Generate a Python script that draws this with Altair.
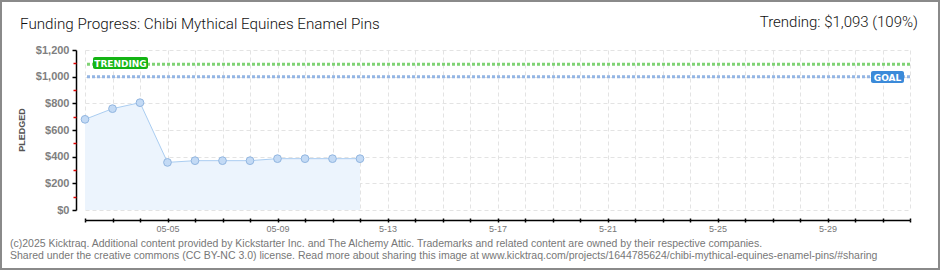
import altair as alt
import pandas as pd

# ---- data ----
dates = ["2025-05-02", "2025-05-03", "2025-05-04", "2025-05-05", "2025-05-06",
         "2025-05-07", "2025-05-08", "2025-05-09", "2025-05-10", "2025-05-11",
         "2025-05-12"]
pledged = [680, 760, 805, 357, 370, 370, 370, 385, 385, 385, 385]
goal_value = 1000
trending_value = 1093
ref_names = ["TRENDING", "GOAL"]
ref_values = [trending_value, goal_value]

x_label_dates = ["2025-05-05", "2025-05-09", "2025-05-13", "2025-05-17",
                 "2025-05-21", "2025-05-25", "2025-05-29"]
x_label_texts = ["05-05", "05-09", "5-13", "5-17", "5-21", "5-25", "5-29"]
y_major = [0, 200, 400, 600, 800, 1000, 1200]
y_minor = [100, 300, 500, 700, 900, 1100]

title_text = "Funding Progress: Chibi Mythical Equines Enamel Pins"
trend_text = "Trending: $1,093 (109%)"
y_title = "PLEDGED"
footer_lines = [
    "(c)2025 Kicktraq. Additional content provided by Kickstarter Inc. and The Alchemy Attic. Trademarks and related content are owned by their respective companies.",
    "Shared under the creative commons (CC BY-NC 3.0) license. Read more about sharing this image at www.kicktraq.com/projects/1644785624/chibi-mythical-equines-enamel-pins/#sharing",
]

# ---- styling ----
FONT_T = "Roboto"
FONT = "Liberation Sans"
GRID = "#e3e3e3"

df = pd.DataFrame({"date": dates, "pledged": pledged})
refs = pd.DataFrame({"name": ref_names, "value": ref_values})

all_days = pd.date_range("2025-05-02", "2025-06-01", freq="D")
day_values = [alt.DateTime(year=d.year, month=d.month, date=d.day, utc=True) for d in all_days]
x_dom = [day_values[0], day_values[-1]]

label_expr = "".join(
    f"utcFormat(datum.value, '%Y-%m-%d') == '{d}' ? '{t}' : "
    for d, t in zip(x_label_dates, x_label_texts)
) + "''"

xscale = alt.Scale(type="utc", domain=x_dom)
yscale = alt.Scale(domain=[0, 1200], nice=False)

x_axis_main = alt.Axis(
    values=day_values, labelExpr=label_expr, orient="bottom", offset=10,
    grid=True, gridColor=GRID, gridDash=[4, 3], gridWidth=1,
    domain=True, domainColor="#000", domainWidth=1.5,
    ticks=True, tickColor="#000", tickSize=2, tickWidth=1.5,
    labelFont=FONT, labelFontSize=9, labelColor="#777", labelPadding=2,
    labelFlush=False, labelOverlap=False, title=None,
)
x_axis_up = alt.Axis(
    values=day_values, orient="bottom", offset=8, grid=False, domain=False,
    ticks=True, tickColor="#000", tickSize=2, tickWidth=1.5, labels=False, title=None,
)
y_axis_main = alt.Axis(
    values=y_major, orient="left", offset=9, format="$,.0f",
    grid=True, gridColor=GRID, gridDash=[4, 3], gridWidth=1,
    domain=True, domainColor="#000", domainWidth=1.5,
    ticks=True, tickColor="#000", tickSize=4, tickWidth=1.5,
    labelFont=FONT, labelFontSize=11, labelFontWeight="bold", labelColor="#808080",
    labelPadding=3, title=None,
)
y_axis_minor = alt.Axis(
    values=y_minor, orient="left", offset=9, grid=False, domain=False,
    ticks=True, tickColor="#e00000", tickSize=3, tickWidth=1.5, labels=False, title=None,
)

base = alt.Chart(df)

area = base.mark_area(color="#ecf4fd", opacity=1).encode(
    x=alt.X("date:T", scale=xscale, axis=x_axis_main),
    y=alt.Y("pledged:Q", scale=yscale, axis=y_axis_main),
)
line = base.mark_line(color="#aacdf1", strokeWidth=1).encode(
    x=alt.X("date:T", scale=xscale, axis=x_axis_up),
    y=alt.Y("pledged:Q", scale=yscale, axis=y_axis_minor),
)
points = base.mark_circle(size=60, color="#c3daf5", opacity=1, stroke="#92b6e0", strokeWidth=1).encode(
    x=alt.X("date:T", scale=xscale, axis=None),
    y=alt.Y("pledged:Q", scale=yscale, axis=None),
)

trend_rule = alt.Chart(refs).transform_filter(alt.datum.name == "TRENDING").mark_rule(
    color="#7fd274", strokeWidth=3, strokeDash=[3, 2]
).encode(y=alt.Y("value:Q", scale=yscale, axis=None))
goal_rule = alt.Chart(refs).transform_filter(alt.datum.name == "GOAL").mark_rule(
    color="#93b5e4", strokeWidth=3, strokeDash=[3, 2]
).encode(y=alt.Y("value:Q", scale=yscale, axis=None))

trend_box = alt.Chart(refs).transform_filter(alt.datum.name == "TRENDING").mark_rect(
    color="#14b414", cornerRadius=2
).encode(x=alt.value(8), x2=alt.value(63), y=alt.value(7), y2=alt.value(19))
trend_lbl = alt.Chart(refs).transform_filter(alt.datum.name == "TRENDING").mark_text(
    font="DejaVu Sans", fontSize=9, fontWeight="bold", color="white", align="center", baseline="middle"
).encode(x=alt.value(35.5), y=alt.value(13.5), text="name:N")

goal_box = alt.Chart(refs).transform_filter(alt.datum.name == "GOAL").mark_rect(
    color="#3b8ad9", cornerRadius=2
).encode(x=alt.value(786), x2=alt.value(819), y=alt.value(21), y2=alt.value(33))
goal_lbl = alt.Chart(refs).transform_filter(alt.datum.name == "GOAL").mark_text(
    font="DejaVu Sans", fontSize=9, fontWeight="bold", color="white", align="center", baseline="middle"
).encode(x=alt.value(802.5), y=alt.value(27.5), text="name:N")

def txt(s, x, y, **kw):
    return alt.Chart(pd.DataFrame({"t": [s]})).mark_text(**kw).encode(
        x=alt.value(x), y=alt.value(y), text="t:N")

title = txt(title_text, -65, -21, font=FONT_T, fontSize=15.2, fontWeight=300, color="#111",
            align="left", baseline="alphabetic")
trend_t = txt(trend_text, 833, -23, font=FONT_T, fontSize=15, fontWeight=300, color="#111",
              align="right", baseline="alphabetic")
ytitle = txt(y_title, -63.5, 80, font=FONT, fontSize=9, fontWeight="bold", color="#555",
             angle=270, align="center", baseline="middle")
foot1 = txt(footer_lines[0], -75, 197, font=FONT, fontSize=10.5, color="#777",
            align="left", baseline="alphabetic")
foot2 = txt(footer_lines[1], -75, 209, font=FONT, fontSize=10.5, color="#777",
            align="left", baseline="alphabetic")

border = alt.Chart(pd.DataFrame({"t": [0]})).mark_rect(
    fill=None, stroke="#8a8a8a", strokeWidth=2
).encode(x=alt.value(-84), x2=alt.value(854), y=alt.value(-49), y2=alt.value(219))

chart = alt.layer(
    area, line, trend_rule, goal_rule, points, trend_box, trend_lbl, goal_box, goal_lbl,
    title, trend_t, ytitle, foot1, foot2, border
).resolve_axis(x="independent", y="independent").properties(
    width=825, height=160,
    padding={"left": 85, "top": 50, "right": 30, "bottom": 60},
    autosize=alt.AutoSizeParams(type="none"),
    background="white",
).configure_view(stroke=None)

chart.save("out.html", embed_options={"renderer": "svg", "actions": False})
